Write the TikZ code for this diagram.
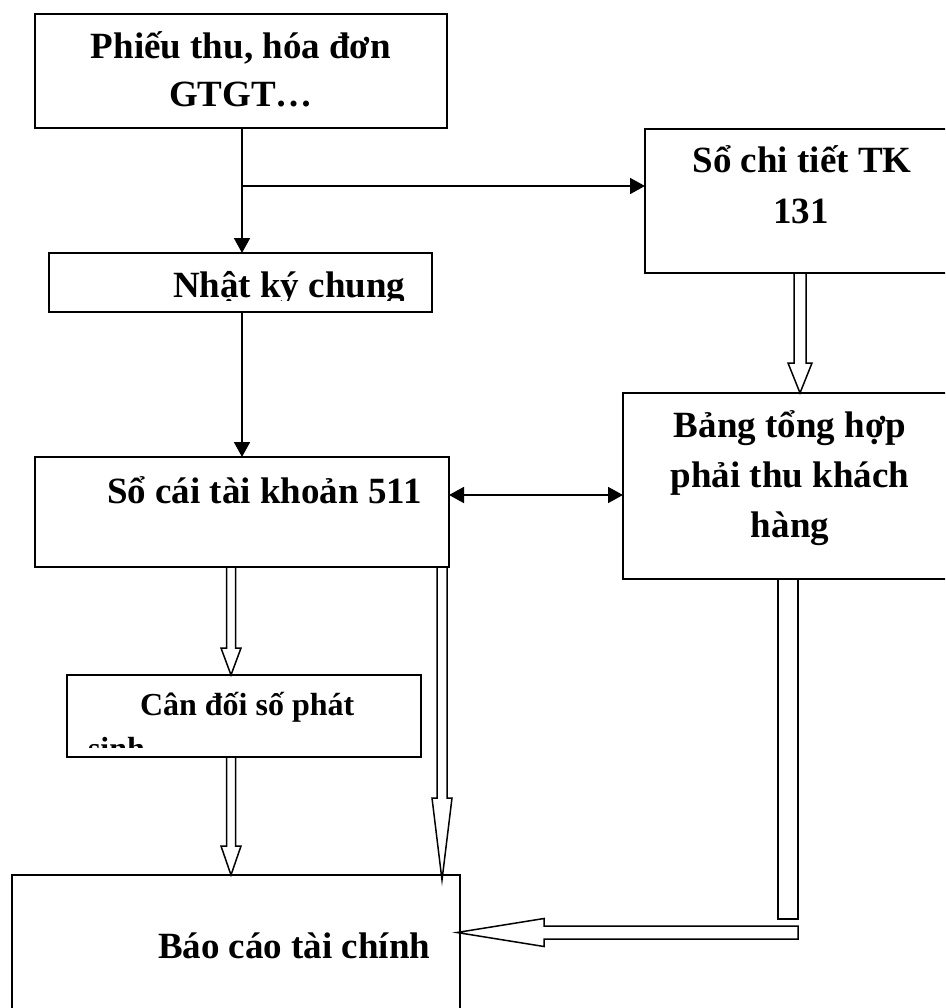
\documentclass[tikz,border=0pt]{standalone}
\usepackage{fontspec}
\setmainfont{Liberation Serif}
\usetikzlibrary{arrows.meta,calc}

% downward block arrow: start, tip, shaft half width, head half width, head length
\newcommand{\blockdown}[5]{%
  \draw[hollow] let \p1=(#1), \p2=(#2) in
    (\x1-#3pt,\y1) -- (\x1-#3pt,\y2+#5pt) -- (\x1-#4pt,\y2+#5pt) -- (\x1,\y2)
    -- (\x1+#4pt,\y2+#5pt) -- (\x1+#3pt,\y2+#5pt) -- (\x1+#3pt,\y1);
}
% leftward block arrow with a closed tail
\newcommand{\blockleft}[5]{%
  \draw[hollow] let \p1=(#1), \p2=(#2) in
    (\x1,\y1+#3pt) -- (\x2+#5pt,\y1+#3pt) -- (\x2+#5pt,\y1+#4pt) -- (\x2,\y1)
    -- (\x2+#5pt,\y1-#4pt) -- (\x2+#5pt,\y1-#3pt) -- (\x1,\y1-#3pt) -- cycle;
}

\tikzset{
  box/.style={draw, line width=1.8pt, rectangle, inner sep=0pt, outer sep=0pt},
  lbl/.style={inner sep=0pt, outer sep=0pt, font=\fontsize{37}{48}\selectfont\bfseries},
  lblsmall/.style={inner sep=0pt, outer sep=0pt, font=\fontsize{32}{42}\selectfont\bfseries},
  flow/.style={line width=1.8pt, -{Triangle[length=15pt,width=16pt]}},
  both/.style={line width=1.8pt, {Triangle[length=15pt,width=16pt]}-{Triangle[length=15pt,width=16pt]}},
  hollow/.style={line width=1.5pt, line join=miter},
}

\begin{document}
\begin{tikzpicture}[x=1pt, y=-1pt]
\useasboundingbox (0,0) rectangle (945,1008);
\clip (0,0) rectangle (945,1008);

% boxes
\node[box, minimum width=412pt, minimum height=114pt] (A) at (241,71) {};
\node[box, minimum width=383pt, minimum height=59pt]  (B) at (240.5,282.5) {};
\node[box, minimum width=314pt, minimum height=144pt] (C) at (802,201) {};
\node[box, minimum width=334pt, minimum height=186pt] (D) at (790,486) {};
\node[box, minimum width=414pt, minimum height=110pt] (E) at (242,512) {};
\node[box, minimum width=354pt, minimum height=82pt]  (F) at (244,716) {};
\node[box, minimum width=448pt, minimum height=155pt] (G) at (236,952.5) {};

% labels
\node[lbl, anchor=base] (A1) at (241,59) {Phiếu thu, hóa đơn};
\node[lbl, anchor=base] (A2) at (241,107) {GTGT…};
\begin{scope}
  \clip (B.north west) rectangle ([yshift=12pt]B.south east);
  \node[lbl, anchor=base west] (B1) at (173,297) {Nhật ký chung};
\end{scope}
\node[lbl, anchor=base] (C1) at (802,173) {Sổ chi tiết TK};
\node[lbl, anchor=base] (C2) at (801,224) {131};
\node[lbl, anchor=base] (D1) at (790,437) {Bảng tổng hợp};
\node[lbl, anchor=base] (D2) at (790,487) {phải thu khách};
\node[lbl, anchor=base] (D3) at (790,537) {hàng};
\node[lbl, anchor=base west] (E1) at (107,503) {Sổ cái tài khoản 511};
\begin{scope}
  \clip (F.north west) rectangle ([yshift=10pt]F.south east);
  \node[lblsmall, anchor=base west] (F1) at (140,715) {Cân đối số phát};
  \node[lblsmall, anchor=base west] (F2) at (88,759) {sinh};
\end{scope}
\node[lbl, anchor=base west] (G1) at (158,958) {Báo cáo tài chính};

% line connectors
\coordinate (J) at (242,186);
\coordinate (Atop) at ([xshift=1pt]A.south);
\draw[flow] (Atop) -- (Atop |- B.north);
\draw[line width=1.8pt, -{Triangle[length=15pt,width=16pt]}] (J) -- (J -| C.west);
\coordinate (Bbot) at ([xshift=1.5pt]B.south);
\draw[flow] (Bbot) -- (Bbot |- E.north);
\draw[both] ([yshift=17pt]E.east) -- ([yshift=17pt]E.east -| D.west);

% block arrows
\coordinate (cd) at ([xshift=-2pt]C.south);
\blockdown{cd}{cd |- D.north}{6}{12}{30}
\coordinate (ef) at ([xshift=-11pt]E.south);
\blockdown{ef}{ef |- F.north}{4.5}{10}{27}
\coordinate (fg) at ([xshift=-13pt]F.south);
\blockdown{fg}{fg |- G.north}{4.5}{10}{29}
\coordinate (eg) at ([xshift=200pt]E.south);
\coordinate (gtop) at ([yshift=-5pt]G.north);
\blockdown{eg}{eg |- gtop}{5}{10}{82}

% bar from the receivables summary and the arrow into the reports
\coordinate (barTL) at ([xshift=-12pt]D.south);
\coordinate (barBR) at (798,919);
\draw[hollow] (barTL) rectangle (barBR);
\coordinate (hs) at (798,932.5);
\coordinate (gtip) at ([xshift=-3pt]G.east);
\blockleft{hs}{gtip |- hs}{6.5}{14}{87}
\end{tikzpicture}
\end{document}
